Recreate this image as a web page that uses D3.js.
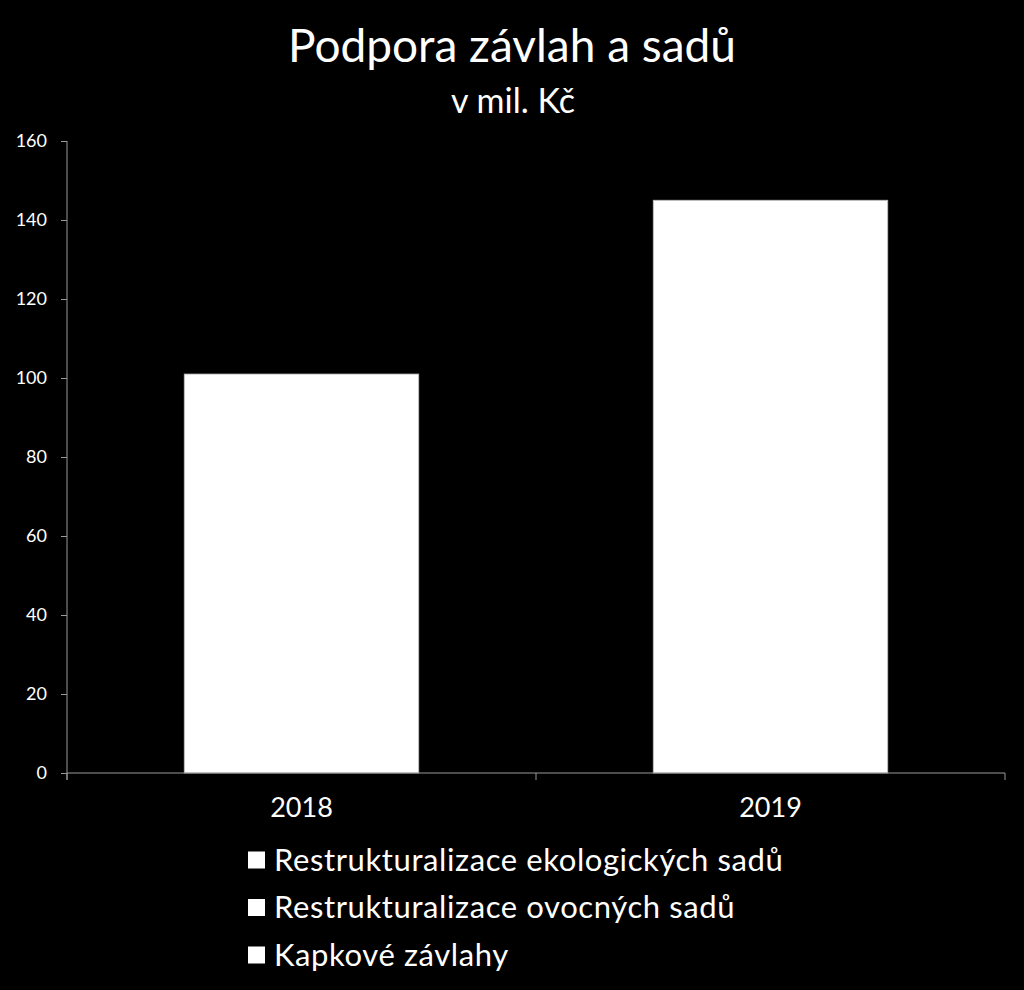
<!DOCTYPE html>
<html><head><meta charset="utf-8">
<script src="https://cdn.jsdelivr.net/npm/d3@7/dist/d3.min.js"></script>
<style>html,body{margin:0;padding:0;background:#000;}svg{display:block;}</style>
</head><body>
<script>
const categories = ["2018", "2019"];
// Visible bar totals (segments of the three white series are indistinguishable)
const totals = [101, 145];
const seriesNames = ["Restrukturalizace ekologických sadů", "Restrukturalizace ovocných sadů", "Kapkové závlahy"];
const yTicks = [0, 20, 40, 60, 80, 100, 120, 140, 160];

const W = 1024, H = 990;
const font = "Lato, 'Open Sans', sans-serif";
const svg = d3.select("body").append("svg").attr("width", W).attr("height", H)
  .style("background", "#000");

const m = {left: 67, right: 1005, top: 141, bottom: 773};
const x = d3.scaleBand().domain(categories).range([m.left, m.right]).paddingInner(0).paddingOuter(0);
const y = d3.scaleLinear().domain([0, 160]).range([m.bottom, m.top]);

// title
svg.append("text").attr("x", 512).attr("y", 62).attr("text-anchor", "middle")
  .attr("fill", "#fff").style("font-family", font).style("font-size", "46px").text("Podpora závlah a sadů");
svg.append("text").attr("x", 513).attr("y", 113).attr("text-anchor", "middle")
  .attr("fill", "#fff").style("font-family", font).style("font-size", "34px").text("v mil. Kč");

// bars
const bw = x.bandwidth() * 0.5;
svg.selectAll("rect.bar").data(categories).enter().append("rect").attr("class", "bar")
  .attr("x", d => x(d) + (x.bandwidth() - bw) / 2)
  .attr("width", bw)
  .attr("y", (d, i) => y(totals[i]))
  .attr("height", (d, i) => y(0) - y(totals[i]))
  .attr("fill", "#fff").attr("stroke", "#bbb").attr("stroke-width", 0.8);

// y axis
const ya = svg.append("g").attr("transform", `translate(${m.left},0)`)
  .call(d3.axisLeft(y).tickValues(yTicks).tickSize(6).tickPadding(14));
ya.select(".domain").attr("stroke", "#999").attr("d", `M0,${m.top}V${m.bottom + 7}`);
ya.selectAll(".tick line").attr("stroke", "#999");
ya.selectAll(".tick text").attr("fill", "#fff").style("font-family", font).style("font-size", "18px");

// x axis
const xa = svg.append("g").attr("transform", `translate(0,${m.bottom})`)
  .call(d3.axisBottom(x).tickSize(0).tickPadding(25));
xa.select(".domain").attr("stroke", "#999").attr("d", `M${m.left},0H${m.right}`);
xa.selectAll(".tick text").attr("fill", "#fff").style("font-family", font).style("font-size", "27px");
// category boundary ticks
svg.append("g").selectAll("line").data([m.left, x(categories[1]), m.right]).enter().append("line")
  .attr("x1", d => d).attr("x2", d => d).attr("y1", m.bottom).attr("y2", m.bottom + 7)
  .attr("stroke", "#999");

// legend
const lg = svg.append("g").selectAll("g").data(seriesNames).enter().append("g")
  .attr("transform", (d, i) => `translate(248,${860 + i * 47.5})`);
lg.append("rect").attr("x", 0).attr("y", -8.5).attr("width", 17).attr("height", 17).attr("fill", "#fff");
lg.append("text").attr("x", 26).attr("y", 0).attr("dy", "0.35em").attr("fill", "#fff")
  .style("font-family", font).style("font-size", "31px").style("letter-spacing", "0.6px").text(d => d);
</script>
</body></html>
